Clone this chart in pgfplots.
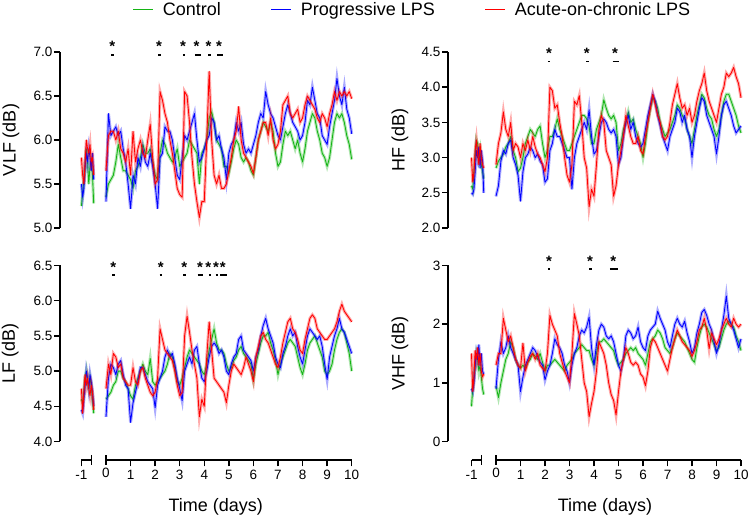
\documentclass[border=0pt]{standalone}
\usepackage{pgfplots}
\pgfplotsset{compat=1.18}
\usepackage{pgfplotstable}
\usepackage{fontspec}
\setmainfont{Liberation Sans}
\definecolor{cg}{RGB}{20,180,20}
\definecolor{cb}{RGB}{0,0,255}
\definecolor{cr}{RGB}{255,0,0}

\pgfplotstableread{
x g b r
-1.00 5.25 5.50 5.80
-0.95 5.40 5.35 5.60
-0.90 5.55 5.45 5.50
-0.85 5.70 5.70 5.75
-0.80 5.90 5.85 6.00
-0.75 5.75 5.75 5.90
-0.70 5.50 5.90 5.85
-0.65 5.70 5.80 5.95
-0.60 5.75 5.65 5.75
-0.55 5.60 5.85 5.80
-0.50 5.28 5.55 5.60
-0.45 nan nan nan
0.0 5.35 5.30 5.65
0.1 5.50 6.30 6.05
0.2 5.55 6.05 6.10
0.3 5.60 6.10 6.10
0.4 5.75 6.15 6.00
0.5 5.95 6.05 6.10
0.6 5.80 6.10 5.90
0.7 5.65 5.90 5.85
0.8 5.65 5.75 5.75
0.9 5.60 5.50 5.90
1.0 5.55 5.22 5.60
1.1 5.45 5.60 6.10
1.2 5.65 5.50 5.75
1.3 5.70 5.80 5.90
1.4 5.80 5.70 6.00
1.5 5.95 5.90 5.85
1.6 5.85 5.75 5.80
1.7 5.85 5.70 6.00
1.8 5.90 5.85 6.18
1.9 5.75 5.70 5.80
2.0 5.60 5.50 5.50
2.1 5.55 5.22 5.55
2.2 5.85 5.80 6.55
2.3 6.00 5.85 6.45
2.4 5.95 6.15 6.30
2.5 5.85 6.10 6.20
2.6 5.80 6.10 6.00
2.7 5.75 6.00 5.85
2.8 5.80 5.80 5.65
2.9 5.90 5.60 5.45
3.0 5.70 5.55 5.38
3.1 5.75 5.80 5.35
3.2 5.80 6.05 6.55
3.3 5.85 6.00 6.50
3.4 6.00 6.10 6.20
3.5 5.95 6.20 5.80
3.6 5.90 6.30 5.50
3.7 5.85 6.00 5.30
3.8 5.50 5.75 5.12
3.9 5.85 5.80 5.30
4.0 5.90 5.90 5.30
4.1 6.00 6.00 6.00
4.2 6.25 6.05 6.78
4.3 6.32 6.25 6.00
4.4 6.20 6.20 5.60
4.5 6.00 6.00 5.50
4.6 5.95 6.05 5.60
4.7 5.90 5.90 5.45
4.8 5.70 5.80 5.45
4.9 5.70 5.55 5.50
5.0 5.62 5.85 5.65
5.1 5.75 5.95 5.80
5.2 5.90 6.00 6.00
5.3 6.00 6.20 6.10
5.4 5.95 6.10 6.38
5.5 5.80 6.20 6.00
5.6 5.75 5.95 5.85
5.7 5.80 5.85 5.80
5.8 5.75 5.90 5.75
5.9 5.65 5.85 5.70
6.0 5.60 5.95 5.62
6.1 5.80 6.05 5.80
6.2 6.00 6.20 6.00
6.3 6.10 6.30 6.10
6.4 6.20 6.25 6.20
6.5 6.15 6.55 6.20
6.6 6.10 6.40 6.05
6.7 6.20 6.30 6.25
6.8 6.10 6.25 6.00
6.9 5.85 6.15 5.90
7.0 5.70 6.05 5.95
7.1 5.75 6.00 6.10
7.2 5.95 6.15 6.40
7.3 6.10 6.30 6.45
7.4 6.05 6.40 6.50
7.5 6.10 6.30 6.30
7.6 6.00 6.20 6.25
7.7 5.90 6.15 6.30
7.8 6.00 6.10 6.35
7.9 5.85 6.00 6.20
8.0 5.75 6.05 6.25
8.1 5.90 6.20 6.40
8.2 6.10 6.45 6.50
8.3 6.20 6.40 6.45
8.4 6.30 6.60 6.40
8.5 6.25 6.45 6.35
8.6 6.10 6.30 6.25
8.7 6.00 6.25 6.20
8.8 5.85 6.05 6.30
8.9 5.80 6.00 6.25
9.0 5.70 5.95 6.15
9.1 5.80 6.15 6.30
9.2 6.00 6.30 6.40
9.3 6.20 6.45 6.55
9.4 6.30 6.70 6.45
9.5 6.25 6.50 6.55
9.6 6.30 6.40 6.50
9.7 6.20 6.60 6.55
9.8 6.05 6.35 6.50
9.9 5.95 6.25 6.55
10.0 5.78 6.07 6.47
}\vlf

\pgfplotstableread{
x g b r
-1.00 2.60 2.50 3.00
-0.95 2.55 2.48 2.65
-0.90 2.80 2.55 2.80
-0.85 3.00 2.80 3.10
-0.80 3.25 3.10 3.25
-0.75 3.20 3.00 3.05
-0.70 3.00 3.15 2.90
-0.65 3.10 2.85 3.20
-0.60 2.90 3.10 3.00
-0.55 2.80 2.95 2.90
-0.50 2.70 2.50 2.85
-0.45 nan nan nan
0.0 2.85 2.45 2.90
0.1 2.95 2.60 3.20
0.2 3.00 2.95 3.35
0.3 3.05 3.10 3.65
0.4 3.15 3.05 3.40
0.5 3.20 3.20 3.30
0.6 3.30 3.25 3.50
0.7 3.10 3.00 3.10
0.8 3.00 2.90 3.20
0.9 2.80 2.75 3.15
1.0 2.85 2.38 3.00
1.1 3.00 2.80 3.20
1.2 3.20 3.00 3.10
1.3 3.30 3.05 3.25
1.4 3.40 3.15 3.10
1.5 3.35 3.10 3.30
1.6 3.30 3.00 3.15
1.7 3.40 3.05 3.05
1.8 3.45 2.95 3.00
1.9 3.20 2.90 2.90
2.0 3.00 2.65 2.80
2.1 3.10 2.70 3.00
2.2 3.30 3.10 4.00
2.3 3.30 3.20 3.95
2.4 3.40 3.40 3.70
2.5 3.55 3.30 3.75
2.6 3.40 3.30 3.50
2.7 3.30 3.20 3.30
2.8 3.20 3.10 3.00
2.9 3.10 3.00 2.75
3.0 3.10 3.00 2.65
3.1 3.20 2.55 2.90
3.2 3.30 3.00 3.80
3.3 3.40 3.20 3.75
3.4 3.50 3.30 3.88
3.5 3.60 3.40 3.50
3.6 3.60 3.50 3.00
3.7 3.55 3.40 2.85
3.8 3.45 3.68 2.30
3.9 3.20 3.30 2.55
4.0 3.20 3.05 2.45
4.1 3.40 3.10 2.90
4.2 3.50 3.30 3.40
4.3 3.60 3.50 3.60
4.4 3.82 3.55 3.50
4.5 3.70 3.50 3.10
4.6 3.60 3.40 3.00
4.7 3.55 3.35 2.90
4.8 3.60 3.40 2.45
4.9 3.50 3.30 2.60
5.0 3.10 2.90 2.90
5.1 3.20 3.00 3.10
5.2 3.40 3.30 3.30
5.3 3.50 3.50 3.60
5.4 3.65 3.60 3.45
5.5 3.50 3.40 3.30
5.6 3.55 3.50 3.20
5.7 3.40 3.30 3.20
5.8 3.30 3.20 3.30
5.9 3.20 3.15 3.10
6.0 3.00 3.20 3.05
6.1 3.20 3.40 3.30
6.2 3.50 3.60 3.50
6.3 3.70 3.75 3.70
6.4 3.85 3.90 3.90
6.5 3.80 3.80 3.75
6.6 3.70 3.60 3.60
6.7 3.50 3.45 3.50
6.8 3.40 3.30 3.30
6.9 3.30 3.20 3.25
7.0 3.35 3.10 3.30
7.1 3.40 3.30 3.50
7.2 3.50 3.40 3.75
7.3 3.60 3.50 3.90
7.4 3.75 3.70 4.05
7.5 3.70 3.65 3.85
7.6 3.60 3.50 3.70
7.7 3.55 3.60 3.75
7.8 3.40 3.40 3.60
7.9 3.30 3.30 3.70
8.0 3.20 3.00 3.50
8.1 3.40 3.30 3.60
8.2 3.60 3.50 3.80
8.3 3.75 3.70 3.95
8.4 3.90 3.85 4.05
8.5 3.85 3.80 4.20
8.6 3.70 3.60 3.95
8.7 3.60 3.50 3.80
8.8 3.55 3.40 3.70
8.9 3.40 3.30 3.60
9.0 3.30 3.05 3.50
9.1 3.40 3.30 3.70
9.2 3.60 3.60 3.90
9.3 3.80 3.75 4.00
9.4 3.90 3.80 4.20
9.5 3.90 3.70 4.15
9.6 3.80 3.60 4.20
9.7 3.70 3.45 4.28
9.8 3.60 3.35 4.15
9.9 3.45 3.40 4.05
10.0 3.35 3.45 3.85
}\hf

\pgfplotstableread{
x g b r
-1.00 4.60 4.45 4.75
-0.95 4.55 4.40 4.40
-0.90 4.70 4.60 4.70
-0.85 4.90 4.80 4.95
-0.80 5.00 5.00 4.80
-0.75 4.85 4.90 4.90
-0.70 4.75 4.75 4.75
-0.65 4.90 4.95 4.65
-0.60 4.80 4.85 4.80
-0.55 4.60 4.70 4.70
-0.50 4.40 4.50 4.45
-0.45 nan nan nan
0.0 4.60 4.35 4.75
0.1 4.65 4.90 5.10
0.2 4.70 5.10 4.95
0.3 4.80 5.05 5.25
0.4 4.85 4.95 5.20
0.5 5.00 5.10 5.05
0.6 5.00 5.15 5.10
0.7 4.90 4.95 4.90
0.8 4.85 4.80 4.85
0.9 4.75 4.75 4.80
1.0 4.65 4.27 4.80
1.1 4.60 4.55 5.05
1.2 4.80 4.70 4.85
1.3 4.90 4.85 4.80
1.4 5.00 5.05 5.00
1.5 5.10 5.05 5.05
1.6 5.00 4.95 4.90
1.7 4.95 4.85 4.80
1.8 5.18 4.80 4.70
1.9 4.85 4.75 4.65
2.0 4.80 4.48 4.70
2.1 4.85 4.80 4.90
2.2 4.90 4.90 5.60
2.3 4.95 5.00 5.45
2.4 5.00 5.20 5.30
2.5 5.10 5.30 5.25
2.6 5.25 5.20 5.20
2.7 5.20 5.25 5.15
2.8 5.05 5.10 5.00
2.9 4.85 4.90 4.80
3.0 4.80 4.75 4.65
3.1 4.90 4.58 4.70
3.2 5.05 5.00 5.50
3.3 5.20 5.10 5.78
3.4 5.30 5.20 5.55
3.5 5.25 5.10 5.30
3.6 5.20 5.30 5.10
3.7 5.15 5.35 4.90
3.8 5.10 5.10 4.35
3.9 5.00 4.90 4.60
4.0 4.95 4.85 4.50
4.1 5.10 5.00 5.20
4.2 5.30 5.20 5.70
4.3 5.45 5.35 5.30
4.4 5.60 5.40 4.90
4.5 5.40 5.35 4.85
4.6 5.30 5.25 4.80
4.7 5.30 5.30 4.75
4.8 5.25 5.20 4.70
4.9 5.10 5.00 4.55
5.0 5.00 4.95 4.80
5.1 5.05 5.10 5.00
5.2 5.15 5.20 5.10
5.3 5.20 5.25 5.05
5.4 5.30 5.45 5.00
5.5 5.35 5.50 4.95
5.6 5.25 5.30 5.05
5.7 5.20 5.25 5.20
5.8 5.15 5.20 5.10
5.9 5.10 5.15 5.00
6.0 4.88 5.00 4.85
6.1 5.10 5.20 5.20
6.2 5.25 5.30 5.35
6.3 5.40 5.50 5.50
6.4 5.50 5.65 5.55
6.5 5.50 5.75 5.45
6.6 5.55 5.60 5.40
6.7 5.40 5.50 5.30
6.8 5.30 5.40 5.20
6.9 5.15 5.20 5.10
7.0 4.95 5.10 5.05
7.1 5.10 5.05 5.20
7.2 5.20 5.25 5.40
7.3 5.30 5.35 5.55
7.4 5.40 5.50 5.70
7.5 5.45 5.60 5.75
7.6 5.40 5.50 5.60
7.7 5.35 5.55 5.55
7.8 5.20 5.35 5.45
7.9 5.05 5.20 5.30
8.0 4.95 5.10 5.25
8.1 5.10 5.30 5.45
8.2 5.30 5.50 5.60
8.3 5.40 5.60 5.75
8.4 5.45 5.55 5.80
8.5 5.50 5.50 5.75
8.6 5.40 5.45 5.60
8.7 5.30 5.50 5.55
8.8 5.20 5.35 5.50
8.9 5.00 5.10 5.45
9.0 4.95 4.88 5.45
9.1 5.00 5.20 5.50
9.2 5.10 5.35 5.55
9.3 5.30 5.50 5.60
9.4 5.45 5.60 5.70
9.5 5.55 5.75 5.85
9.6 5.60 5.60 5.95
9.7 5.55 5.55 5.85
9.8 5.40 5.45 5.80
9.9 5.25 5.35 5.75
10.0 5.00 5.25 5.70
}\lf

\pgfplotstableread{
x g b r
-1.00 0.60 0.90 1.50
-0.95 0.90 0.85 0.85
-0.90 1.10 1.00 1.10
-0.85 1.30 1.30 1.55
-0.80 1.50 1.50 1.40
-0.75 1.40 1.40 1.60
-0.70 1.20 1.65 1.30
-0.65 1.30 1.30 1.50
-0.60 1.10 1.50 1.20
-0.55 0.90 1.20 1.10
-0.50 0.80 1.15 1.15
-0.45 nan nan nan
0.0 0.95 0.90 1.30
0.1 0.75 1.40 1.50
0.2 1.00 1.70 1.50
0.3 1.20 1.50 2.10
0.4 1.40 1.60 1.90
0.5 1.50 1.80 1.70
0.6 1.70 1.60 1.80
0.7 1.60 1.50 1.60
0.8 1.40 1.40 1.40
0.9 1.30 1.30 1.30
1.0 1.25 0.85 1.25
1.1 1.30 1.10 1.68
1.2 1.25 1.30 1.20
1.3 1.35 1.40 1.35
1.4 1.40 1.50 1.45
1.5 1.50 1.60 1.50
1.6 1.45 1.55 1.40
1.7 1.40 1.45 1.50
1.8 1.50 1.35 1.30
1.9 1.35 1.30 1.25
2.0 1.20 1.05 1.20
2.1 1.30 1.20 1.50
2.2 1.30 1.30 2.15
2.3 1.35 1.50 2.00
2.4 1.40 1.75 1.90
2.5 1.35 1.65 1.80
2.6 1.30 1.60 1.50
2.7 1.25 1.50 1.35
2.8 1.20 1.30 1.20
2.9 1.30 1.20 1.10
3.0 1.35 1.00 1.00
3.1 1.40 1.30 1.50
3.2 1.50 1.50 2.18
3.3 1.55 1.60 2.00
3.4 1.60 1.80 1.80
3.5 1.65 1.90 1.40
3.6 1.60 1.85 1.00
3.7 1.55 1.95 0.85
3.8 1.55 2.12 0.42
3.9 1.40 1.60 0.65
4.0 1.30 1.30 0.85
4.1 1.50 1.65 1.20
4.2 1.70 1.90 1.70
4.3 1.70 2.00 1.60
4.4 1.75 1.95 1.50
4.5 1.70 1.80 1.30
4.6 1.65 1.75 1.00
4.7 1.60 1.80 0.80
4.8 1.55 1.70 0.70
4.9 1.40 1.50 0.45
5.0 1.30 1.30 0.85
5.1 1.35 1.20 1.20
5.2 1.40 1.40 1.40
5.3 1.50 1.80 1.60
5.4 1.55 1.90 1.50
5.5 1.60 1.85 1.35
5.6 1.55 1.75 1.30
5.7 1.60 1.80 1.35
5.8 1.50 1.95 1.30
5.9 1.45 1.70 1.15
6.0 1.40 1.60 1.10
6.1 1.30 1.55 0.95
6.2 1.50 1.80 1.20
6.3 1.70 1.90 1.60
6.4 1.75 1.95 1.75
6.5 1.80 2.00 1.70
6.6 1.90 2.22 1.60
6.7 1.85 2.10 1.50
6.8 1.75 2.00 1.40
6.9 1.60 1.90 1.30
7.0 1.55 1.70 1.20
7.1 1.50 1.60 1.40
7.2 1.60 1.80 1.60
7.3 1.75 2.00 1.75
7.4 1.85 2.10 1.90
7.5 1.80 2.00 1.80
7.6 1.75 1.95 1.70
7.7 1.70 2.05 1.65
7.8 1.60 1.85 1.60
7.9 1.50 1.70 1.55
8.0 1.40 1.50 1.45
8.1 1.35 1.60 1.55
8.2 1.60 1.85 1.70
8.3 1.80 2.00 1.90
8.4 1.95 2.20 1.95
8.5 2.00 2.25 2.10
8.6 1.95 2.15 1.90
8.7 1.85 2.00 1.58
8.8 1.75 1.90 1.85
8.9 1.65 1.70 1.75
9.0 1.55 1.50 1.65
9.1 1.60 1.65 1.75
9.2 1.75 1.90 1.90
9.3 1.90 2.15 2.00
9.4 2.00 2.48 2.10
9.5 2.05 2.10 2.00
9.6 2.00 2.00 1.95
9.7 1.95 1.90 2.10
9.8 1.80 1.75 2.00
9.9 1.70 1.60 1.95
10.0 1.55 1.75 2.00
}\vhf

\pgfplotsset{
  panel/.style={
    enlargelimits=false, clip=false,
    axis x line=none, axis y line=left,
    axis line style={-, line width=1.4pt},
    ytick style={line width=1.4pt, black},
    major tick length=6pt, tick align=outside,
    xmax=10, unbounded coords=jump,
    tick label style={font=\fontsize{13.5}{16}\selectfont},
    yticklabel style={inner xsep=1.5pt},
    label style={font=\fontsize{18}{21}\selectfont},
    /pgf/number format/assume math mode=true,
  },
  onedec/.style={yticklabel style={/pgf/number format/.cd, fixed, fixed zerofill, precision=1}},
  halo/.style={line width=3pt, opacity=0.33},
  mean/.style={line width=0.85pt, line join=round},
  xseg/.style={
    y=1pt, ymin=0, ymax=1, enlargelimits=false, clip=false,
    axis y line=none, axis x line=bottom,
    axis line style={-, line width=1.4pt},
    xtick style={line width=1.4pt, black},
    major tick length=6.5pt, tick align=outside,
    tick label style={font=\fontsize{13.5}{16}\selectfont},
    label style={font=\fontsize{18}{21}\selectfont},
    /pgf/number format/assume math mode=true,
    extra x tick style={tick align=center, major tick length=10pt},
  },
  leggreen/.style={legend image code/.code={\draw[draw=cg, line width=1pt] (0pt,0pt) -- (20pt,0pt);}},
  legblue/.style={legend image code/.code={\draw[draw=cb, line width=1pt] (0pt,0pt) -- (20pt,0pt);}},
  legred/.style={legend image code/.code={\draw[draw=cr, line width=1pt] (0pt,0pt) -- (20pt,0pt);}},
}
\newcommand{\sigmark}[5]{%
  \node[anchor=base, inner sep=0pt, font=\bfseries\fontsize{15}{15}\selectfont] at (axis cs:#1,#2) {*};
  \draw[line width=1.8pt] (axis cs:#3,#5) -- (axis cs:#4,#5);}
\newcommand{\threeseries}[1]{%
  \addplot[cg, halo, forget plot] table[x=x, y=g]{#1};
  \addplot[cg, mean, forget plot] table[x=x, y=g]{#1};
  \addplot[cb, halo, forget plot] table[x=x, y=b]{#1};
  \addplot[cb, mean, forget plot] table[x=x, y=b]{#1};
  \addplot[cr, halo, forget plot] table[x=x, y=r]{#1};
  \addplot[cr, mean, forget plot] table[x=x, y=r]{#1};}

\begin{document}
\begin{tikzpicture}
\path[use as bounding box] (0pt,0pt) rectangle (749pt,519pt);

% ---------- VLF (top left)
\begin{axis}[panel, onedec, x=24.57pt, y=88pt, xmin=-1.872, ymin=5, ymax=7,
  ytick={5,5.5,6,6.5,7},
  at={(60pt,291pt)}, anchor=south west,
  ylabel={VLF (dB)}, ylabel style={at={(axis description cs:-0.168,0.5)}, anchor=center},
  legend columns=3,
  legend style={draw=none, fill=none, at={(1.2084,1.2415)}, anchor=center,
    font=\fontsize{18}{21}\selectfont,
    /tikz/every odd column/.append style={column sep=7pt},
    /tikz/every even column/.append style={column sep=48pt}},
]
\addlegendimage{leggreen}
\addlegendentry{Control}
\addlegendimage{legblue}
\addlegendentry{Progressive LPS}
\addlegendimage{legred}
\addlegendentry{Acute-on-chronic LPS}
\threeseries{\vlf}
\sigmark{0.26}{7.0}{0.22}{0.32}{6.966}
\sigmark{2.16}{7.0}{2.13}{2.23}{6.966}
\sigmark{3.14}{7.0}{3.13}{3.23}{6.966}
\sigmark{3.69}{7.0}{3.62}{3.85}{6.966}
\sigmark{4.17}{7.0}{4.17}{4.27}{6.966}
\sigmark{4.60}{7.0}{4.52}{4.78}{6.966}
\end{axis}

% ---------- HF (top right)
\begin{axis}[panel, onedec, x=24.5pt, y=70.4pt, xmin=-1.959, ymin=2, ymax=4.5,
  ytick={2,2.5,3,3.5,4,4.5},
  at={(448pt,291pt)}, anchor=south west,
  ylabel={HF (dB)}, ylabel style={at={(axis description cs:-0.164,0.5)}, anchor=center},
]
\threeseries{\hf}
\sigmark{2.16}{4.406}{2.12}{2.22}{4.365}
\sigmark{3.71}{4.406}{3.68}{3.78}{4.365}
\sigmark{4.86}{4.406}{4.76}{5.00}{4.365}
\end{axis}

% ---------- LF (bottom left)
\begin{axis}[panel, onedec, x=24.57pt, y=70.4pt, xmin=-1.872, ymin=4, ymax=6.5,
  ytick={4,4.5,5,5.5,6,6.5},
  at={(60pt,77.5pt)}, anchor=south west,
  ylabel={LF (dB)}, ylabel style={at={(axis description cs:-0.171,0.5)}, anchor=center},
]
\threeseries{\lf}
\sigmark{0.30}{6.40}{0.25}{0.35}{6.365}
\sigmark{2.23}{6.40}{2.18}{2.28}{6.365}
\sigmark{3.19}{6.40}{3.14}{3.24}{6.365}
\sigmark{3.83}{6.40}{3.73}{3.96}{6.365}
\sigmark{4.16}{6.40}{4.19}{4.27}{6.365}
\sigmark{4.48}{6.40}{4.46}{4.54}{6.365}
\sigmark{4.75}{6.40}{4.64}{4.91}{6.365}
\end{axis}

% ---------- VHF (bottom right)
\begin{axis}[panel, x=24.5pt, y=58.67pt, xmin=-1.959, ymin=0, ymax=3,
  ytick={0,1,2,3},
  at={(448pt,77.5pt)}, anchor=south west,
  ylabel={VHF (dB)}, ylabel style={at={(axis description cs:-0.164,0.5)}, anchor=center},
]
\threeseries{\vhf}
\sigmark{2.16}{2.985}{2.12}{2.22}{2.94}
\sigmark{3.84}{2.985}{3.80}{3.90}{2.94}
\sigmark{4.79}{2.985}{4.65}{4.99}{2.94}
\end{axis}

% ---------- broken time axes
\begin{axis}[xseg, x=24.57pt, xmin=-1, xmax=-0.6, xtick={-1}, xticklabels={-1},
  extra x ticks={-0.6}, extra x tick labels={},
  at={(81.43pt,59pt)}, anchor=south west]
\end{axis}
\begin{axis}[xseg, x=24.57pt, xmin=0, xmax=10, xtick={1,...,10},
  extra x ticks={0}, extra x tick labels={0},
  at={(106pt,59pt)}, anchor=south west,
  xlabel={Time (days)}, xlabel style={at={(axis description cs:0.447,0)}, anchor=center, yshift=-47pt}]
\end{axis}
\begin{axis}[xseg, x=24.5pt, xmin=-1, xmax=-0.6, xtick={-1}, xticklabels={-1},
  extra x ticks={-0.6}, extra x tick labels={},
  at={(471.5pt,59pt)}, anchor=south west]
\end{axis}
\begin{axis}[xseg, x=24.5pt, xmin=0, xmax=10, xtick={1,...,10},
  extra x ticks={0}, extra x tick labels={0},
  at={(496pt,59pt)}, anchor=south west,
  xlabel={Time (days)}, xlabel style={at={(axis description cs:0.445,0)}, anchor=center, yshift=-47pt}]
\end{axis}
\end{tikzpicture}
\end{document}
